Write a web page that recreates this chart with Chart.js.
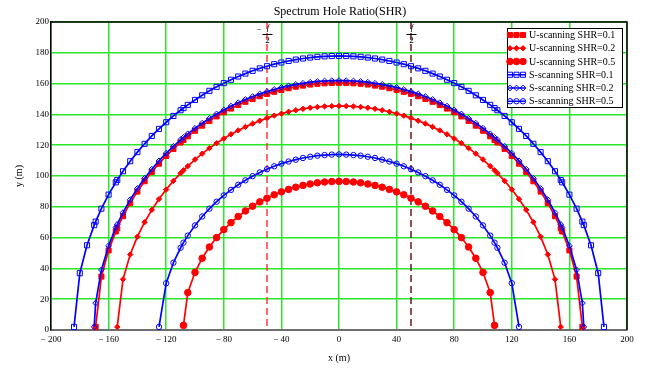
<!DOCTYPE html>
<html>
<head>
<meta charset="utf-8">
<title>Spectrum Hole Ratio(SHR)</title>
<script src="https://cdn.jsdelivr.net/npm/chart.js@4.4.1/dist/chart.umd.min.js"></script>
<style>
  html, body { margin:0; padding:0; background:#fff; }
  #wrap { width:648px; height:368px; }
</style>
</head>
<body>
<div id="wrap"><canvas id="chart" width="648" height="368"></canvas></div>
<script>
// x (m) sample positions shared by all curves
const xs = [
  -184, -180, -175, -170, -169, -165, -160, -155, -154, -150,
  -145, -140, -135, -130, -125, -120, -115, -110, -108, -105,
  -100, -95, -90, -85, -80, -75, -70, -65, -60, -55,
  -50, -45, -40, -35, -30, -25, -20, -15, -10, -5,
  0,
  5, 10, 15, 20, 25, 30, 35, 40, 45, 50,
  55, 60, 65, 70, 75, 80, 85, 90, 95, 100,
  105, 108, 110, 115, 120, 125, 130, 135, 140, 145,
  150, 154, 155, 160, 165, 169, 170, 175, 180, 184
];

// y (m), null where the curve does not exist
const uShr01 = [
  null, null, null, null, 2, 34.7, 51.7, 64.0, 66.1, 73.9,
  82.4, 89.9, 96.6, 102.6, 108.0, 113.0, 117.6, 121.8, 123.4, 125.8,
  129.4, 132.7, 135.8, 138.7, 141.4, 143.8, 146.1, 148.2, 150.0, 151.8,
  153.3, 154.7, 155.9, 157.0, 158.0, 158.7, 159.4, 159.9, 160.2, 160.4,
  160.5,
  160.4, 160.2, 159.9, 159.4, 158.7, 158.0, 157.0, 155.9, 154.7, 153.3,
  151.8, 150.0, 148.2, 146.1, 143.8, 141.4, 138.7, 135.8, 132.7, 129.4,
  125.8, 123.4, 121.8, 117.6, 113.0, 108.0, 102.6, 96.6, 89.9, 82.4,
  73.9, 66.1, 64.0, 51.7, 34.7, 2, null, null, null, null
];
const uShr02 = [
  null, null, null, null, null, null, null, null, 2, 32.9,
  49.0, 60.6, 70.0, 78.0, 85.0, 91.2, 96.8, 101.8, 103.7, 106.4,
  110.7, 114.5, 118.1, 121.3, 124.3, 127.1, 129.6, 131.9, 134.0, 135.9,
  137.6, 139.2, 140.5, 141.7, 142.7, 143.6, 144.3, 144.8, 145.2, 145.4,
  145.5,
  145.4, 145.2, 144.8, 144.3, 143.6, 142.7, 141.7, 140.5, 139.2, 137.6,
  135.9, 134.0, 131.9, 129.6, 127.1, 124.3, 121.3, 118.1, 114.5, 110.7,
  106.4, 103.7, 101.8, 96.8, 91.2, 85.0, 78.0, 70.0, 60.6, 49.0,
  32.9, 2, null, null, null, null, null, null, null, null
];
const uShr05 = [
  null, null, null, null, null, null, null, null, null, null,
  null, null, null, null, null, null, null, null, 3, 24.3,
  37.4, 46.6, 53.9, 60.0, 65.2, 69.7, 73.7, 77.3, 80.4, 83.2,
  85.6, 87.8, 89.7, 91.3, 92.7, 93.9, 94.8, 95.6, 96.1, 96.4,
  96.5,
  96.4, 96.1, 95.6, 94.8, 93.9, 92.7, 91.3, 89.7, 87.8, 85.6,
  83.2, 80.4, 77.3, 73.7, 69.7, 65.2, 60.0, 53.9, 46.6, 37.4,
  24.3, 3, null, null, null, null, null, null, null, null,
  null, null, null, null, null, null, null, null, null, null
];
const sShr01 = [
  2, 36.9, 55.0, 68.1, 70.4, 78.8, 87.9, 95.9, 97.4, 103.1,
  109.6, 115.5, 120.9, 126.0, 130.6, 134.9, 139.0, 142.7, 144.1, 146.2,
  149.4, 152.4, 155.3, 157.9, 160.3, 162.5, 164.6, 166.5, 168.3, 169.9,
  171.3, 172.6, 173.7, 174.7, 175.6, 176.3, 176.9, 177.4, 177.7, 177.9,
  178,
  177.9, 177.7, 177.4, 176.9, 176.3, 175.6, 174.7, 173.7, 172.6, 171.3,
  169.9, 168.3, 166.5, 164.6, 162.5, 160.3, 157.9, 155.3, 152.4, 149.4,
  146.2, 144.1, 142.7, 139.0, 134.9, 130.6, 126.0, 120.9, 115.5, 109.6,
  103.1, 97.4, 95.9, 87.9, 78.8, 70.4, 68.1, 55.0, 36.9, 2
];
const sShr02 = [
  null, null, null, 2, 17.5, 39.0, 54.7, 66.5, 68.6, 76.2,
  84.6, 91.9, 98.5, 104.4, 109.8, 114.8, 119.3, 123.5, 125.1, 127.4,
  131.0, 134.3, 137.4, 140.3, 142.9, 145.4, 147.6, 149.7, 151.6, 153.3,
  154.8, 156.2, 157.5, 158.5, 159.5, 160.2, 160.9, 161.4, 161.7, 161.9,
  162,
  161.9, 161.7, 161.4, 160.9, 160.2, 159.5, 158.5, 157.5, 156.2, 154.8,
  153.3, 151.6, 149.7, 147.6, 145.4, 142.9, 140.3, 137.4, 134.3, 131.0,
  127.4, 125.1, 123.5, 119.3, 114.8, 109.8, 104.4, 98.5, 91.9, 84.6,
  76.2, 68.6, 66.5, 54.7, 39.0, 17.5, 2, null, null, null
];
const sShr05 = [
  null, null, null, null, null, null, null, null, null, null,
  null, null, null, null, 2, 30.4, 43.7, 53.4, 56.7, 61.3,
  67.9, 73.7, 78.8, 83.3, 87.4, 91.0, 94.3, 97.2, 99.9, 102.3,
  104.4, 106.3, 108.0, 109.4, 110.6, 111.7, 112.5, 113.2, 113.6, 113.9,
  114,
  113.9, 113.6, 113.2, 112.5, 111.7, 110.6, 109.4, 108.0, 106.3, 104.4,
  102.3, 99.9, 97.2, 94.3, 91.0, 87.4, 83.3, 78.8, 73.7, 67.9,
  61.3, 56.7, 53.4, 43.7, 30.4, 2, null, null, null, null,
  null, null, null, null, null, null, null, null, null, null
];

const seriesLabels = ['U-scanning SHR=0.1', 'U-scanning SHR=0.2', 'U-scanning SHR=0.5',
                      'S-scanning SHR=0.1', 'S-scanning SHR=0.2', 'S-scanning SHR=0.5'];
const seriesValues = [uShr01, uShr02, uShr05, sShr01, sShr02, sShr05];

// the -f/2 and f/2 marks on the x axis
const halfBandX = [-50, 50];

const SERIF = "'Liberation Serif', 'Times New Roman', serif";

// marker styles, same order as the labels
const looks = [
  {color:'#ff0000', style:'rect',    r:3.6, filled:true,  order:1},
  {color:'#ff0000', style:'rectRot', r:2.7, filled:true,  order:1},
  {color:'#ff0000', style:'circle',  r:3.3, filled:true,  order:1},
  {color:'#0000ff', style:'rect',    r:3.6, filled:false, order:0},
  {color:'#0000ff', style:'rectRot', r:2.9, filled:false, order:0},
  {color:'#0000ff', style:'circle',  r:2.7, filled:false, order:0}
];

function toPoints(ys){
  return xs.map((x, i) => ({x: x, y: ys[i]})).filter(p => p.y !== null);
}

const datasets = seriesValues.map((ys, i) => {
  const lk = looks[i];
  return {
    label: seriesLabels[i],
    data: toPoints(ys),
    showLine: true,
    borderColor: lk.color,
    borderWidth: 1.7,
    pointStyle: lk.style,
    pointRadius: lk.r,
    pointBorderWidth: 1,
    pointBorderColor: lk.color,
    pointBackgroundColor: lk.filled ? lk.color : 'rgba(0,0,0,0)',
    order: lk.order
  };
});

// dashed -f/2, f/2 lines behind the curves
const halfBandLines = {
  id: 'halfBandLines',
  beforeDatasetsDraw(chart){
    const {ctx, chartArea:a, scales:{x}} = chart;
    const colors = ['#ff2a2a', '#5a0c0c'];
    ctx.save();
    halfBandX.forEach((v, i) => {
      const px = Math.round(x.getPixelForValue(v));
      ctx.strokeStyle = colors[i];
      ctx.lineWidth = 1.4;
      ctx.setLineDash([7, 4]);
      ctx.beginPath();
      ctx.moveTo(px, a.top);
      ctx.lineTo(px, a.bottom);
      ctx.stroke();
    });
    ctx.restore();
  },
  afterDatasetsDraw(chart){
    const {ctx, scales:{x}} = chart;
    ctx.save();
    ctx.fillStyle = '#000';
    ctx.textAlign = 'center';
    ctx.textBaseline = 'middle';
    halfBandX.forEach((v) => {
      const px = Math.round(x.getPixelForValue(v));
      ctx.font = 'italic 9px ' + SERIF;
      ctx.fillText('f', px + 1, 28);
      ctx.font = '9px ' + SERIF;
      ctx.fillText('2', px + 0.5, 41);
      ctx.fillRect(px - 4.5, 34, 10, 1);
      if (v < 0) ctx.fillText('\u2212', px - 8, 30);
    });
    ctx.restore();
  }
};

// frame, legend box, titles
const decorations = {
  id: 'decorations',
  afterDatasetsDraw(chart){
    const {ctx, chartArea:a} = chart;
    ctx.save();
    ctx.strokeStyle = '#000';
    ctx.lineWidth = 1.5;
    ctx.beginPath();
    ctx.moveTo(a.left, a.top);
    ctx.lineTo(a.right, a.top);
    ctx.lineTo(a.right, a.bottom);
    ctx.stroke();

    // legend
    const w = 115, h = 79;
    const left = a.right - 5 - w, top = a.top + 6;
    ctx.fillStyle = '#fff';
    ctx.fillRect(left, top, w, h);
    ctx.lineWidth = 1;
    ctx.strokeRect(left + 0.5, top + 0.5, w, h);
    ctx.font = '10px ' + SERIF;
    ctx.textAlign = 'left';
    ctx.textBaseline = 'middle';
    seriesLabels.forEach((lab, i) => {
      const lk = looks[i];
      const y = top + 7 + i * 13.25;
      ctx.strokeStyle = lk.color;
      ctx.lineWidth = 1.5;
      ctx.beginPath();
      ctx.moveTo(left + 1, y);
      ctx.lineTo(left + 18, y);
      ctx.stroke();
      ctx.lineWidth = 1;
      ctx.fillStyle = lk.filled ? lk.color : 'rgba(0,0,0,0)';
      [3, 9.5, 16].forEach(dx => {
        Chart.helpers.drawPoint(ctx, {pointStyle: lk.style, radius: lk.r, rotation: 0, borderWidth: 1}, left + dx, y);
      });
      ctx.fillStyle = '#000';
      ctx.fillText(lab, left + 22, y + 0.5);
    });
    ctx.restore();
  },
  afterDraw(chart){
    const {ctx, chartArea:a} = chart;
    ctx.save();
    ctx.fillStyle = '#000';
    ctx.textAlign = 'center';
    ctx.textBaseline = 'middle';
    ctx.font = '12px ' + SERIF;
    ctx.fillText('Spectrum Hole Ratio(SHR)', (a.left + a.right) / 2 + 1, 12);
    ctx.font = '10px ' + SERIF;
    ctx.fillText('x (m)', (a.left + a.right) / 2, 358);
    ctx.translate(19, (a.top + a.bottom) / 2);
    ctx.rotate(-Math.PI / 2);
    ctx.fillText('y (m)', 0, 0);
    ctx.restore();
  }
};

Chart.defaults.font.family = SERIF;
Chart.defaults.color = '#000';

new Chart(document.getElementById('chart'), {
  type: 'scatter',
  data: { datasets: datasets },
  options: {
    responsive: false,
    animation: false,
    devicePixelRatio: 1,
    layout: { padding: { top: 22, right: 21, left: 0, bottom: 0 } },
    plugins: { legend: { display: false }, tooltip: { enabled: false } },
    scales: {
      x: {
        type: 'linear', min: -200, max: 200,
        afterFit: s => { s.height = 38; },
        ticks: {
          stepSize: 40, autoSkip: false, padding: 4,
          font: { size: 9 },
          callback: v => v < 0 ? '\u2212 ' + Math.abs(v) : String(v)
        },
        grid: { color: 'rgb(40,232,40)', lineWidth: 1.5, drawTicks: false },
        border: { color: '#6e6e6e', width: 2 }
      },
      y: {
        min: 0, max: 200,
        afterFit: s => { s.width = 51; },
        ticks: { stepSize: 20, padding: 2, font: { size: 9 } },
        grid: { color: 'rgb(40,232,40)', lineWidth: 1.5, drawTicks: false },
        border: { color: '#000', width: 1.5 }
      }
    }
  },
  plugins: [halfBandLines, decorations]
});
</script>
</body>
</html>
